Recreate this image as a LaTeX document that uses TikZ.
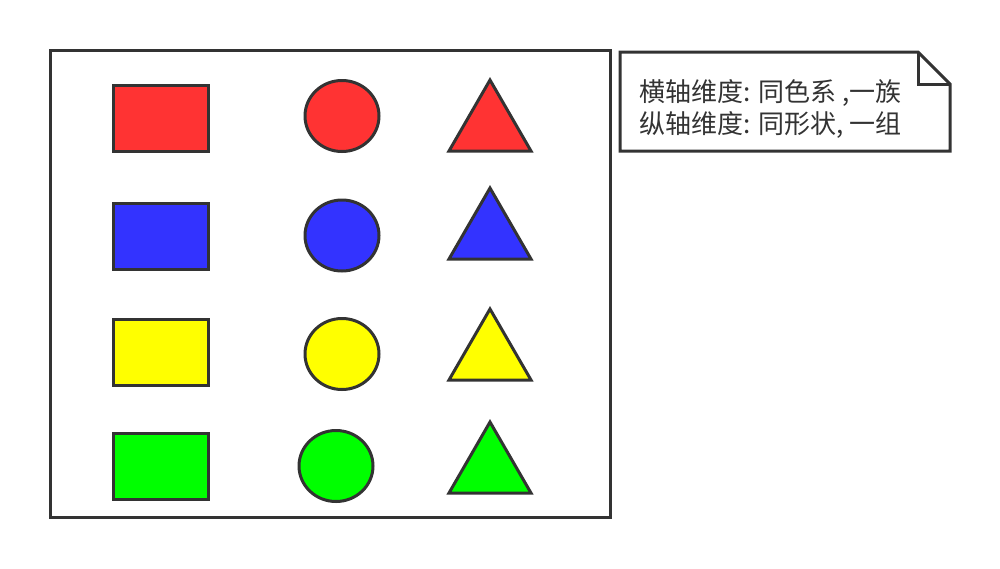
\documentclass[tikz,border=0pt]{standalone}
\usepackage{fontspec}
\newfontfamily\cjk{Noto Sans CJK SC}
\definecolor{strk}{HTML}{333333}
\definecolor{cred}{HTML}{FF3333}
\definecolor{cblue}{HTML}{3333FF}
\definecolor{cyel}{HTML}{FFFF00}
\definecolor{cgreen}{HTML}{00FF00}
\begin{document}
\begin{tikzpicture}[x=1pt,y=-1pt,
  shp/.style={draw=strk,line width=3pt,line join=miter},
  frame/.style={draw=strk,line width=3pt},
  notetext/.style={font=\cjk\fontsize{26}{32}\selectfont,text=strk,align=left,anchor=base west,inner sep=0pt}]
\useasboundingbox[fill=white] (0,0) rectangle (1000,568);
\draw[frame] (50,50) rectangle (610,517);
% rectangles
\foreach \c/\y in {cred/85,cblue/203,cyel/319,cgreen/433}{
  \draw[shp,fill=\c] (113,\y) rectangle (208,\y+66);
}
% circles
\foreach \c/\x/\y in {cred/342/116,cblue/342/235.5,cyel/342/354,cgreen/336/466}{
  \draw[shp,fill=\c] (\x,\y) ellipse [x radius=37, y radius=35.5];
}
% triangles
\foreach \c/\y in {cred/80,cblue/188,cyel/309,cgreen/422}{
  \draw[shp,fill=\c] (490,\y) -- (531,\y+71) -- (449,\y+71) -- cycle;
}
% note
\draw[frame,line join=miter] (620,52) -- (918,52) -- (950,84) -- (950,151) -- (620,151) -- cycle;
\draw[frame,line join=miter] (918,52) -- (918,84) -- (950,84);
\node[notetext] (note) at (639,133) {横轴维度: 同色系 ,一族\\纵轴维度: 同形状, 一组};
\end{tikzpicture}
\end{document}
